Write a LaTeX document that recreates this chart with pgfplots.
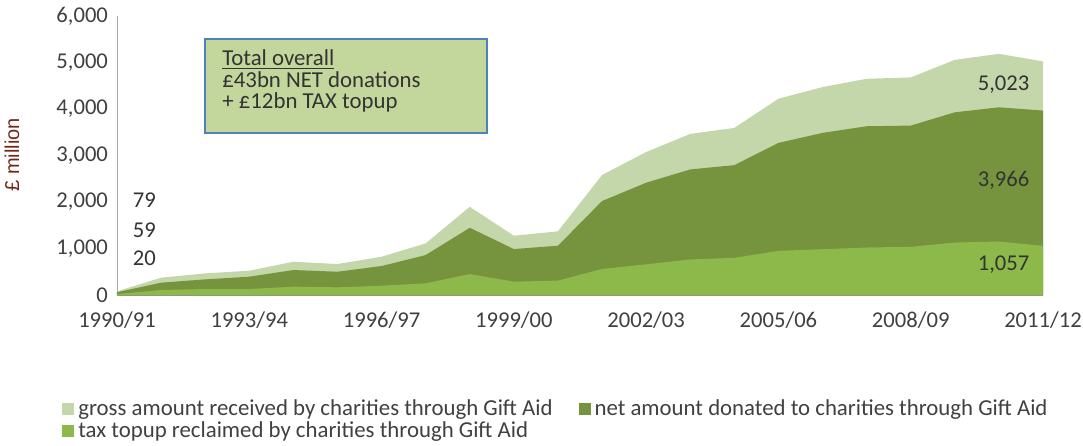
\documentclass[border=0pt]{standalone}
\usepackage{pgfplots}
\usepackage{pgfplotstable}
\pgfplotsset{compat=1.18}
\usepackage{fontspec}
\setmainfont{Carlito}
\newfontfamily\arialf{Liberation Sans}
\definecolor{grossc}{RGB}{196,215,171}
\definecolor{netc}{RGB}{118,148,62}
\definecolor{taxc}{RGB}{141,184,74}
\definecolor{boxfill}{RGB}{195,214,155}
\definecolor{boxdraw}{RGB}{79,129,189}
\definecolor{txt}{RGB}{64,64,64}
\definecolor{ylab}{RGB}{110,40,25}
\pgfplotstableread{
i gross net tax
0 79 59 20
1 372 265 107
2 465 336 129
3 522 394 128
4 716 537 179
5 666 501 165
6 823 623 200
7 1110 859 251
8 1897 1446 451
9 1274 988 286
10 1370 1060 310
11 2580 2020 560
12 3075 2415 660
13 3464 2700 764
14 3593 2793 800
15 4221 3271 950
16 4471 3486 985
17 4650 3629 1021
18 4679 3643 1036
19 5057 3929 1128
20 5186 4036 1150
21 5023 3966 1057
}\data
\begin{document}
\begin{tikzpicture}
\begin{axis}[
  name=ax,
  scale only axis,
  width=463pt, height=139.5pt,
  xmin=0, xmax=21, ymin=0, ymax=6000,
  axis x line=bottom, axis y line=left,
  axis line style={-, draw=black!35},
  x axis line style={draw=black!45},
  xtick={0,3,6,9,12,15,18,21},
  xticklabels={1990/91,1993/94,1996/97,1999/00,2002/03,2005/06,2008/09,2011/12},
  ytick={0,1000,2000,3000,4000,5000,6000},
  major tick length=0pt,
  tick label style={font=\fontsize{11.3}{13}\selectfont, text=txt},
  xticklabel style={yshift=-5pt},
  yticklabel style={xshift=-1pt},
  /pgf/number format/assume math mode=true,
  /pgf/number format/1000 sep={,},
  scaled y ticks=false,
  ylabel={\arialf £ million},
  ylabel style={at={(axis description cs:-0.1134,0.502)}, anchor=center, rotate=0, font=\fontsize{10}{11}\selectfont, text=ylab},
  legend style={at={(axis description cs:-0.0616,-0.352)}, anchor=north west, draw=none, fill=none,
    font=\fontsize{11.4}{12.5}\selectfont, text=txt, row sep=-2.5pt, inner sep=1pt},
  legend columns=2,
  legend cell align=left,
  legend image code/.code={\fill[#1] (0pt,-3pt) rectangle (6pt,3pt);},
  clip=false,
]
\addplot[fill=grossc, draw=none] table[x=i, y=gross] {\data} \closedcycle;
\addlegendentry{gross amount received by charities through Gift Aid\rule{11pt}{0pt}}
\addplot[fill=netc, draw=none] table[x=i, y=net] {\data} \closedcycle;
\addlegendentry{net amount donated to charities through Gift Aid}
\addplot[fill=taxc, draw=none] table[x=i, y=tax] {\data} \closedcycle;
\addlegendentry{tax topup reclaimed by charities through Gift Aid}
\draw[draw=boxdraw, line width=0.8pt, fill=boxfill] (axis cs:2.0,5505) rectangle (axis cs:8.39,3484);
\node[anchor=north west, align=left, inner sep=0pt, font=\fontsize{11.4}{10.8}\selectfont, text=black!80]
  at (axis cs:2.38,5280) {\underline{Total overall}\\£43bn NET donations\\+ £12bn TAX topup};
\node[anchor=west, font=\fontsize{11.3}{13}\selectfont, text=black!80] at (axis cs:0.2,2040) {79};
\node[anchor=west, font=\fontsize{11.3}{13}\selectfont, text=black!80] at (axis cs:0.2,1398) {59};
\node[anchor=west, font=\fontsize{11.3}{13}\selectfont, text=black!80] at (axis cs:0.2,796) {20};
\node[anchor=east, font=\fontsize{11.3}{13}\selectfont, text=black!80] at (axis cs:20.85,4516) {5,023};
\node[anchor=east, font=\fontsize{11.3}{13}\selectfont, text=black!80] at (axis cs:20.85,2473) {3,966};
\node[anchor=east, font=\fontsize{11.3}{13}\selectfont, text=black!80] at (axis cs:20.85,645) {1,057};
\end{axis}
\pgfresetboundingbox
\path ([shift={(-58.5pt,-75pt)}]ax.south west) rectangle ([shift={(483pt,147.5pt)}]ax.south west);
\end{tikzpicture}
\end{document}
